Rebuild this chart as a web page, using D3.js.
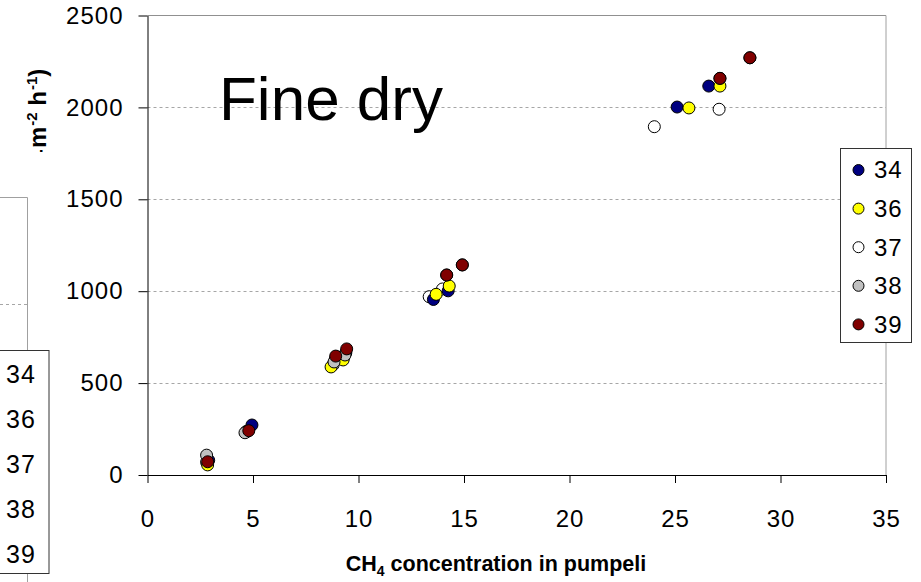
<!DOCTYPE html>
<html lang="en">
    <head>
        <meta charset="utf-8">
        <style>
            body { margin: 0; background: #fff; }
            svg { display: block; font-family: "Liberation Sans", Arial, sans-serif; }
            .tick text { font-size: 24px; fill: #000; }
            .grid line { stroke: #a6a6a6; stroke-dasharray: 3,3; }
        </style>
    </head>
    <body>
        <svg id="chart" width="921" height="582"></svg>
        <script src="https://d3js.org/d3.v7.min.js"></script>
        <script type="text/javascript" charset="utf-8">
            // series as [CH4 concentration, flux]
            var seriesNames = ["34", "36", "37", "38", "39"];
            var s34 = [[2.9, 80], [4.95, 272], [8.9, 630], [9.4, 665], [13.55, 955], [14.25, 1002], [25.1, 2002], [26.6, 2116]];
            var s36 = [[2.85, 55], [4.7, 236], [8.7, 588], [9.27, 626], [13.68, 983], [14.3, 1028], [25.66, 1997], [27.13, 2116]];
            var s37 = [[2.8, 70], [4.7, 238], [8.8, 600], [9.3, 640], [13.35, 970], [13.98, 1012], [24.02, 1895], [27.09, 1990]];
            var s38 = [[2.8, 108], [4.62, 230], [8.84, 615], [9.36, 653], [14.18, 1088], [14.92, 1143], [27.13, 2158], [28.55, 2270]];
            var s39 = [[2.85, 72], [4.8, 241], [8.92, 647], [9.44, 686], [14.18, 1088], [14.92, 1143], [27.13, 2158], [28.55, 2270]];
            var xTicks = [0, 5, 10, 15, 20, 25, 30, 35];
            var yTicks = [0, 500, 1000, 1500, 2000, 2500];

            var seriesData = { "34": s34, "36": s36, "37": s37, "38": s38, "39": s39 };
            var fills = { "34": "#000080", "36": "#ffff00", "37": "#ffffff", "38": "#c0c0c0", "39": "#800000" };
            var drawOrder = ["37", "34", "36", "38", "39"];

            var svg = d3.select("#chart");

            var x = d3.scaleLinear().domain([0, 35]).range([147.5, 886]);
            var y = d3.scaleLinear().domain([0, 2500]).range([475, 15.5]);

            // ---- the other chart peeking in on the left ----
            var left = svg.append("g");
            left.append("line").attr("x1", 0).attr("x2", 27.5).attr("y1", 197.5).attr("y2", 197.5)
                .attr("stroke", "#a0a0a0");
            left.append("line").attr("x1", 27.5).attr("x2", 27.5).attr("y1", 197.5).attr("y2", 582)
                .attr("stroke", "#a0a0a0");
            left.append("line").attr("x1", 0).attr("x2", 27.5).attr("y1", 304.5).attr("y2", 304.5)
                .attr("stroke", "#a6a6a6").attr("stroke-dasharray", "3,3");
            left.append("rect").attr("x", -40).attr("y", 350.5).attr("width", 89).attr("height", 223)
                .attr("fill", "#fff").attr("stroke", "#333");
            left.selectAll("text.lleg")
                .data(seriesNames).enter()
                .append("text")
                .attr("class", "lleg")
                .attr("x", 6)
                .attr("y", function(d, i) { return 374 + i * 45; })
                .attr("dy", "0.35em")
                .style("font-size", "25px")
                .style("letter-spacing", "1px")
                .text(function(d) { return d; });

            // ---- main plot frame and grid ----
            svg.append("g").attr("class", "grid")
                .selectAll("line")
                .data(yTicks.filter(function(d) { return d > 0 && d < 2500; })).enter()
                .append("line")
                .attr("x1", x(0)).attr("x2", x(35))
                .attr("y1", function(d) { return Math.round(y(d)) + 0.5; })
                .attr("y2", function(d) { return Math.round(y(d)) + 0.5; });

            svg.append("line").attr("x1", x(0)).attr("x2", x(35)).attr("y1", y(2500)).attr("y2", y(2500))
                .attr("stroke", "#909090");
            svg.append("line").attr("x1", x(35)).attr("x2", x(35)).attr("y1", y(2500)).attr("y2", y(0))
                .attr("stroke", "#a0a0a0");

            var yAxis = svg.append("g")
                .attr("transform", "translate(" + x(0) + ",0)")
                .call(d3.axisLeft(y).tickValues(yTicks).tickFormat(d3.format("d"))
                    .tickSize(9).tickSizeOuter(0).tickPadding(15));
            var xAxis = svg.append("g")
                .attr("transform", "translate(0," + y(0) + ")")
                .call(d3.axisBottom(x).tickValues(xTicks).tickFormat(d3.format("d"))
                    .tickSize(8).tickSizeOuter(0).tickPadding(27));
            [yAxis, xAxis].forEach(function(a) {
                a.selectAll("path, line").attr("stroke", "#000");
                a.selectAll("text").attr("font-family", null).attr("font-size", null).style("letter-spacing", "1px");
            });

            // ---- points ----
            drawOrder.forEach(function(name) {
                svg.append("g").selectAll("circle")
                    .data(seriesData[name]).enter()
                    .append("circle")
                    .attr("cx", function(d) { return x(d[0]); })
                    .attr("cy", function(d) { return y(d[1]); })
                    .attr("r", 6)
                    .attr("fill", fills[name])
                    .attr("stroke", "#000")
                    .attr("stroke-width", 1);
            });

            // ---- chart label ----
            svg.append("text").attr("x", 219).attr("y", 120)
                .style("font-size", "62px")
                .text("Fine dry");

            // ---- axis titles ----
            var xt = svg.append("text")
                .attr("x", 496).attr("y", 571)
                .attr("text-anchor", "middle")
                .style("font-size", "21.5px").style("font-weight", "bold");
            xt.append("tspan").text("CH");
            xt.append("tspan").attr("dy", 5).style("font-size", "14px").text("4");
            xt.append("tspan").attr("dy", -5).text(" concentration in pumpeli");

            // y title: only its end shows, the rest is hidden behind the left chart
            svg.append("clipPath").attr("id", "ytclip")
                .append("rect").attr("x", 0).attr("y", 0).attr("width", 80).attr("height", 152);
            var ytg = svg.append("g").attr("clip-path", "url(#ytclip)");
            ytg.append("text")
                .attr("transform", "translate(45.5,150) rotate(-90)")
                .attr("text-anchor", "end")
                .style("font-size", "23px").style("font-weight", "bold")
                .text("(mg CH4 ");
            var yt = ytg.append("text")
                .attr("transform", "translate(45.5,148) rotate(-90)")
                .style("font-size", "24px").style("font-weight", "bold");
            yt.append("tspan").text("m");
            yt.append("tspan").attr("dx", 1).attr("dy", -9).style("font-size", "15px").text("-2");
            yt.append("tspan").attr("dy", 9).text(" h");
            yt.append("tspan").attr("dx", 1).attr("dy", -9).style("font-size", "15px").text("-1");
            yt.append("tspan").attr("dy", 9).text(")");

            // ---- legend ----
            var leg = svg.append("g");
            leg.append("rect").attr("x", 840.5).attr("y", 148.5).attr("width", 71).attr("height", 194)
                .attr("fill", "#fff").attr("stroke", "#333");
            var rows = leg.selectAll("g.row")
                .data(seriesNames).enter()
                .append("g")
                .attr("class", "row")
                .attr("transform", function(d, i) { return "translate(0," + (170 + i * 38.6) + ")"; });
            rows.append("circle").attr("cx", 858.5).attr("cy", 0).attr("r", 5.5)
                .attr("fill", function(d) { return fills[d]; })
                .attr("stroke", "#000");
            rows.append("text").attr("x", 874).attr("dy", "0.35em")
                .style("font-size", "24px").style("letter-spacing", "1px")
                .text(function(d) { return d; });
        </script>
    </body>
</html>
